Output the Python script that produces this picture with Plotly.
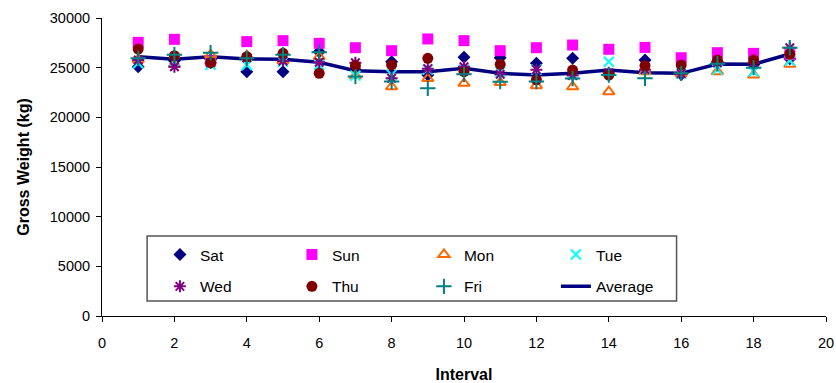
import plotly.graph_objects as go

# Gross weight per interval, one series per weekday plus the overall average
intervals = list(range(1, 20))

sat = [25100, 25700, 25800, 24600, 24600, 26600, 24800, 25600, 24250, 26040,
       26000, 25440, 25940, 24300, 25770, 24300, 25600, 25300, 25900]
sun = [27550, 27850, 25700, 27620, 27720, 27450, 27010, 26710, 27890, 27720,
       26710, 27010, 27280, 26850, 27040, 26000, 26510, 26440, 26300]
mon = [25800, 25340, 26300, 26200, 25700, 26100, 24200, 23080, 23900, 23420,
       23500, 23190, 23080, 22580, 24600, 24400, 24600, 24260, 25340]
tue = [25440, 25600, 25300, 25270, 25600, 25270, 24200, 24300, 24800, 24800,
       24600, 24800, 24300, 25600, 24800, 24400, 24800, 24600, 25700]
wed = [25770, 25100, 25500, 26000, 25670, 25540, 25500, 23930, 24900, 25100,
       24330, 24800, 24200, 24500, 24800, 24400, 25500, 25500, 27000]
thu = [26880, 26200, 25500, 26100, 26440, 24430, 25200, 25270, 25940, 24600,
       25340, 23780, 24760, 24260, 25200, 25270, 25770, 25770, 26340]
fri = [25940, 26300, 26500, 25940, 26300, 26550, 24100, 23600, 22920, 24330,
       23590, 23600, 23900, 24260, 23930, 24430, 25400, 25000, 27010]
average = [26100, 25840, 26100, 25870, 25840, 25540, 24700, 24600, 24600, 24930,
           24430, 24260, 24430, 24760, 24500, 24430, 25370, 25340, 26380]

FONT = "Arial, Liberation Sans, sans-serif"

fig = go.Figure()

# Average line sits underneath the daily markers
fig.add_trace(go.Scatter(
    x=intervals, y=average, name="Average", mode="lines",
    line=dict(color="#000080", width=3.5), legend="legend2", legendrank=4))

markers = [
    ("Sat", sat, "diamond", "#000080", 10, "legend", 1),
    ("Sun", sun, "square", "#FF00FF", 11, "legend", 2),
    ("Mon", mon, "triangle-up-open", "#FF6600", 10, "legend", 3),
    ("Tue", tue, "x-thin-open", "#00FFFF", 10, "legend", 4),
    ("Wed", wed, "asterisk-open", "#800080", 10, "legend2", 1),
    ("Thu", thu, "circle", "#800000", 11, "legend2", 2),
    ("Fri", fri, "cross-thin-open", "#008080", 11, "legend2", 3),
]
for name, vals, sym, col, size, leg, rank in markers:
    fig.add_trace(go.Scatter(
        x=intervals, y=vals, name=name, mode="markers",
        marker=dict(symbol=sym, color=col, size=size,
                    line=dict(color=col, width=2 if "open" in sym else 0)),
        legend=leg, legendrank=rank))

legend_common = dict(
    orientation="h", xanchor="left", yanchor="middle",
    bgcolor="rgba(0,0,0,0)", borderwidth=0,
    font=dict(family=FONT, size=15.5, color="#000000"),
    entrywidth=87, entrywidthmode="pixels", itemclick=False,
)

fig.update_layout(
    width=836, height=383,
    margin=dict(l=102, r=10, t=18, b=67),
    paper_bgcolor="white", plot_bgcolor="white",
    font=dict(family=FONT, size=14.5, color="#000000"),
    legend=dict(x=0.08, y=0.205, **legend_common),
    legend2=dict(x=0.08, y=0.098, **legend_common),
    shapes=[dict(type="rect", xref="paper", yref="paper",
                 x0=0.0623, x1=0.7936, y0=0.0503, y1=0.2685,
                 line=dict(color="#555555", width=1.5),
                 fillcolor="white", layer="below")],
    xaxis=dict(
        range=[0, 20], dtick=2, tick0=0, showgrid=False, zeroline=False,
        showline=True, linecolor="#000000", linewidth=1,
        ticks="outside", ticklen=5, tickcolor="#000000",
        ticklabelstandoff=9, automargin=False,
        tickfont=dict(family=FONT, size=14.5),
        title=dict(text="<b>Interval</b>", font=dict(family=FONT, size=16),
                   standoff=18),
    ),
    yaxis=dict(
        range=[0, 30000], dtick=5000, tick0=0, tickformat="d",
        showgrid=False, zeroline=False,
        showline=True, linecolor="#000000", linewidth=1,
        ticks="outside", ticklen=5, tickcolor="#000000",
        ticklabelstandoff=3, automargin=False,
        tickfont=dict(family=FONT, size=14.5),
        title=dict(text="<b>Gross Weight (kg)</b>", font=dict(family=FONT, size=16),
                   standoff=16),
    ),
)

fig.write_html("out.html")
